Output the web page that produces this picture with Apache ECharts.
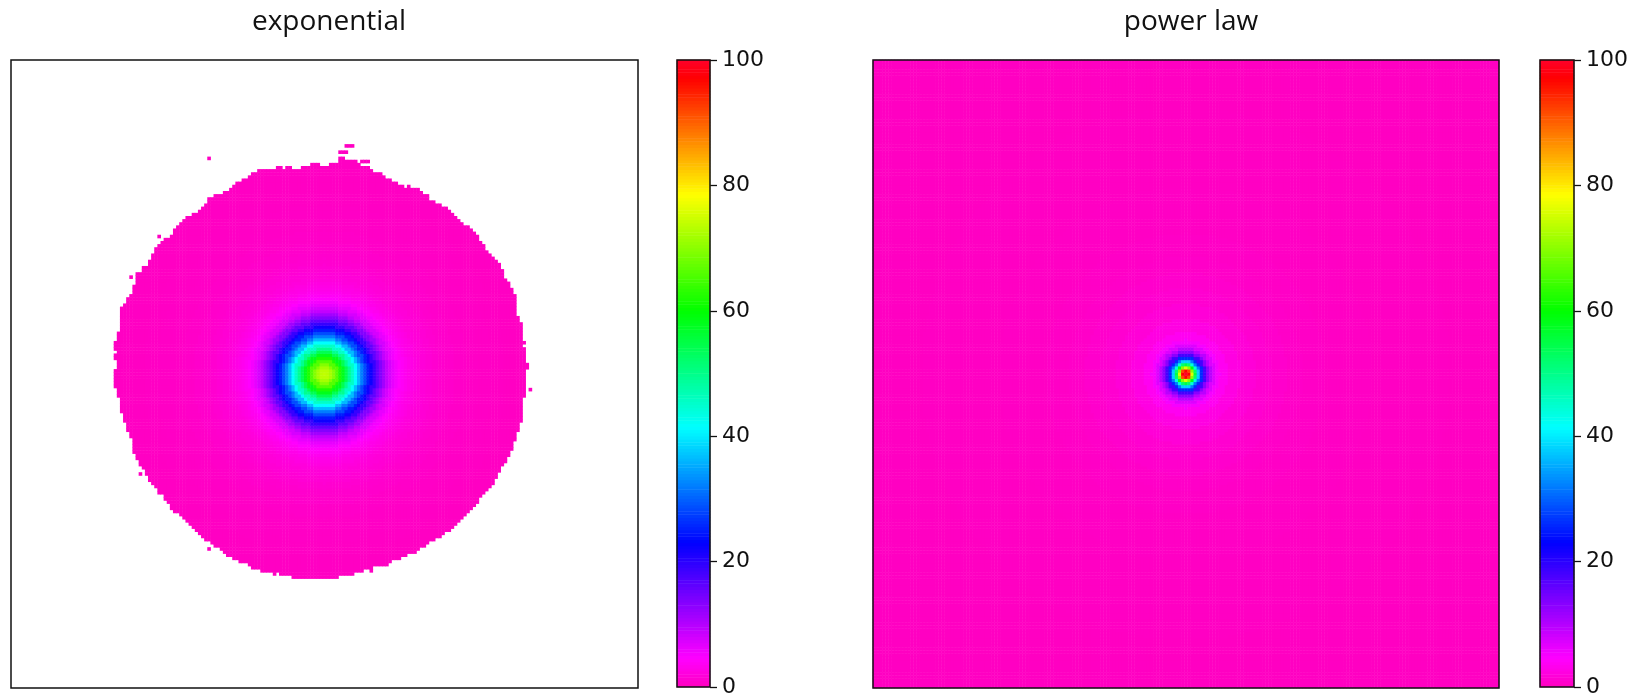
<!DOCTYPE html>
<html>
<head>
<meta charset="utf-8">
<script src="https://cdn.jsdelivr.net/npm/echarts@6/dist/echarts.min.js"></script>
<style>
  html, body { margin: 0; padding: 0; background: #fff; }
  #chart { width: 1646px; height: 698px; }
</style>
</head>
<body>
<div id="chart"></div>
<script>
// ---- data ----
const panelTitles = ['exponential', 'power law'];
const colorbarTicks = [0, 20, 40, 60, 80, 100];
const GRID_SIZE = 201;          // cells per side of each lattice
const CENTER = 100;             // index of the centre cell

// exponential kernel: radial profile (radius in cells -> value)
const expRadius = [0, 1, 2, 3, 4, 5, 6, 7, 8, 9, 10, 11, 12, 13, 14, 15, 16, 17, 18, 19,
  20, 21, 22, 23, 24, 25, 26, 27, 28, 29, 30, 32, 34, 36, 38, 40, 44, 48, 52, 56, 60, 64, 68, 72];
const expValue = [74, 73.5, 72, 69.5, 66, 62, 58, 54, 49.5, 45.5, 41.5, 36.5, 32, 28.5, 25, 22, 19, 16, 13.5, 11.3,
  9, 7.6, 6.3, 5.3, 4.5, 3.9, 3.4, 3.0, 2.7, 2.4, 2.1, 1.8, 1.5, 1.2, 1.0, 0.85, 0.65, 0.5, 0.42, 0.36, 0.32, 0.3, 0.3, 0.3];
// occupied-disc edge radius (cells), every 2.5 degrees counter-clockwise from +x
const expEdgeRadius = [
  64.7, 65.1, 64.8, 64.5, 64.9, 65.3, 65.1, 64.8, 65.4, 66.0, 65.9, 65.5,
  66.0, 66.4, 66.0, 65.5, 65.8, 66.3, 65.9, 65.4, 65.8, 66.2, 65.6, 65.3,
  65.9, 66.4, 65.8, 65.2, 65.4, 66.0, 66.8, 67.5, 68.0, 69.4, 69.3, 68.0,
  66.7, 67.3, 66.9, 66.4, 67.1, 67.8, 67.6, 68.5, 68.2, 67.4, 67.2, 66.6,
  66.6, 67.2, 66.5, 66.0, 66.5, 67.1, 66.8, 66.3, 67.0, 67.6, 67.2, 66.8,
  67.4, 68.1, 67.5, 67.0, 68.0, 68.4, 67.7, 67.1, 67.4, 67.8, 67.3, 67.0,
  67.2, 67.3, 66.8, 66.4, 66.3, 66.0, 65.6, 65.2, 65.5, 66.1, 65.9, 65.4,
  65.8, 65.7, 65.3, 64.9, 65.1, 65.4, 65.0, 64.8, 65.1, 65.6, 65.4, 65.2,
  65.7, 66.1, 66.0, 65.7, 66.2, 66.4, 66.0, 65.7, 65.8, 66.0, 65.6, 65.3,
  65.5, 65.2, 64.8, 64.7, 64.4, 64.3, 64.0, 64.2, 63.9, 63.7, 63.9, 64.2,
  64.0, 63.8, 64.0, 64.2, 63.9, 63.8, 64.0, 64.3, 64.2, 64.0, 64.3, 64.6,
  64.3, 64.1, 64.5, 64.9, 64.8, 64.4, 64.7, 65.0, 64.6, 64.3, 64.6, 64.9];
// isolated occupied cells outside the edge [column, row]
const expStrayCells = [[63, 169], [107, 173], [108, 173], [109, 173], [105, 171], [106, 171], [107, 171],
  [112, 168], [113, 168], [114, 168], [38, 131], [47, 144], [41, 68], [63, 44], [166, 95], [115, 37]];

// power-law kernel: radial profile (radius in cells -> value)
const powRadius = [0, 1, 1.41, 2, 2.24, 2.83, 3, 3.16, 3.61, 4, 4.47, 5, 6, 7, 8, 9, 10, 12, 15, 20,
  25, 30, 35, 40, 50, 70, 100, 145];
const powValue = [100, 97, 92, 76, 70, 58, 55, 52, 44, 38, 32, 26, 18, 13, 9.5, 7, 5.2, 3.6, 2.5, 1.7,
  1.2, 0.9, 0.65, 0.5, 0.38, 0.28, 0.22, 0.2];

// gist_rainbow (reversed) colour stops
const cmapPos = [0, 0.046, 0.23, 0.414, 0.6, 0.785, 0.97, 1];
const cmapRGB = [[255, 0, 191], [255, 0, 255], [0, 0, 255], [0, 255, 255], [0, 255, 0], [255, 255, 0], [255, 0, 0], [255, 0, 41]];

// ---- helpers ----
function nearestValue(radii, values, r) {
  let best = 0, bestD = Infinity;
  for (let i = 0; i < radii.length; i++) {
    const d = Math.abs(radii[i] - r);
    if (d < bestD) { bestD = d; best = i; }
  }
  return values[best];
}

function colorRamp(n) {
  const out = [];
  for (let k = 0; k < n; k++) {
    const t = k / (n - 1);
    let j = 0;
    while (j < cmapPos.length - 2 && t > cmapPos[j + 1]) j++;
    const f = (t - cmapPos[j]) / (cmapPos[j + 1] - cmapPos[j]);
    const c = cmapRGB[j].map((a, q) => Math.round(a + (cmapRGB[j + 1][q] - a) * f));
    out.push('rgb(' + c.join(',') + ')');
  }
  return out;
}

const cellIds = Array.from({ length: GRID_SIZE }, (_, i) => String(i));
const edgeStep = 360 / expEdgeRadius.length;

// exponential lattice: only occupied cells are listed
const expData = [];
for (let x = 0; x < GRID_SIZE; x++) {
  for (let y = 0; y < GRID_SIZE; y++) {
    const dx = x - CENTER, dy = y - CENTER;
    const r = Math.sqrt(dx * dx + dy * dy);
    let ang = Math.atan2(dy, dx) * 180 / Math.PI;
    if (ang < 0) ang += 360;
    const edge = expEdgeRadius[Math.round(ang / edgeStep) % expEdgeRadius.length];
    if (r <= edge) expData.push([x, y, nearestValue(expRadius, expValue, r)]);
  }
}
expStrayCells.forEach(([x, y]) => {
  const dx = x - CENTER, dy = y - CENTER;
  expData.push([x, y, nearestValue(expRadius, expValue, Math.sqrt(dx * dx + dy * dy))]);
});

// power-law lattice: every cell occupied
const powData = [];
for (let x = 0; x < GRID_SIZE; x++) {
  for (let y = 0; y < GRID_SIZE; y++) {
    const dx = x - CENTER, dy = y - CENTER;
    powData.push([x, y, nearestValue(powRadius, powValue, Math.sqrt(dx * dx + dy * dy))]);
  }
}

// colorbar strip
const CBAR_STEPS = 200;
const cbarIds = Array.from({ length: CBAR_STEPS }, (_, i) => String(i));
const cbarData = cbarIds.map((_, i) => [0, i, (i + 0.5) * 100 / CBAR_STEPS]);

// ---- chart ----
const frame = { show: true, z: 10, borderColor: '#111', borderWidth: 1.5, backgroundColor: 'rgba(0,0,0,0)' };
const grids = [
  { left: 11, top: 60, width: 627, height: 628 },
  { left: 677, top: 60, width: 33, height: 628 },
  { left: 873, top: 60, width: 626, height: 628 },
  { left: 1540, top: 60, width: 34, height: 628 }
].map(g => Object.assign({}, frame, g));

const hiddenCat = (gridIndex, data) => ({ type: 'category', gridIndex, data, show: false });
const tickAxis = gridIndex => ({
  type: 'value', gridIndex, position: 'right', min: 0, max: 100, interval: 20,
  axisLine: { show: false },
  axisTick: { show: true, inside: false, length: 7, lineStyle: { color: '#111', width: 1.3 } },
  axisLabel: { margin: 12, fontSize: 22, fontFamily: 'DejaVu Sans', color: '#111',
    formatter: v => colorbarTicks.includes(v) ? String(v) : '' },
  splitLine: { show: false }
});

const heat = (xi, yi, data) => ({
  type: 'heatmap', xAxisIndex: xi, yAxisIndex: yi, data,
  progressive: 0, itemStyle: { borderWidth: 0 }, emphasis: { disabled: true }
});

const option = {
  animation: false,
  backgroundColor: '#fff',
  title: panelTitles.map((t, i) => ({
    text: t, left: [324, 1186][i], top: 3, textAlign: 'center',
    textStyle: { fontFamily: 'Open Sans', fontSize: 28, fontWeight: 'normal', color: '#111' }
  })),
  grid: grids,
  xAxis: [hiddenCat(0, cellIds), hiddenCat(1, ['0']), hiddenCat(2, cellIds), hiddenCat(3, ['0'])],
  yAxis: [hiddenCat(0, cellIds), hiddenCat(1, cbarIds), tickAxis(1), hiddenCat(2, cellIds), hiddenCat(3, cbarIds), tickAxis(3)],
  visualMap: {
    type: 'continuous', show: false, min: 0, max: 100, seriesIndex: [0, 1, 2, 3],
    inRange: { color: colorRamp(201) }
  },
  series: [heat(0, 0, expData), heat(1, 1, cbarData), heat(2, 3, powData), heat(3, 4, cbarData)]
};

const chart = echarts.init(document.getElementById('chart'), null, { renderer: 'canvas' });
chart.setOption(option);
</script>
</body>
</html>
